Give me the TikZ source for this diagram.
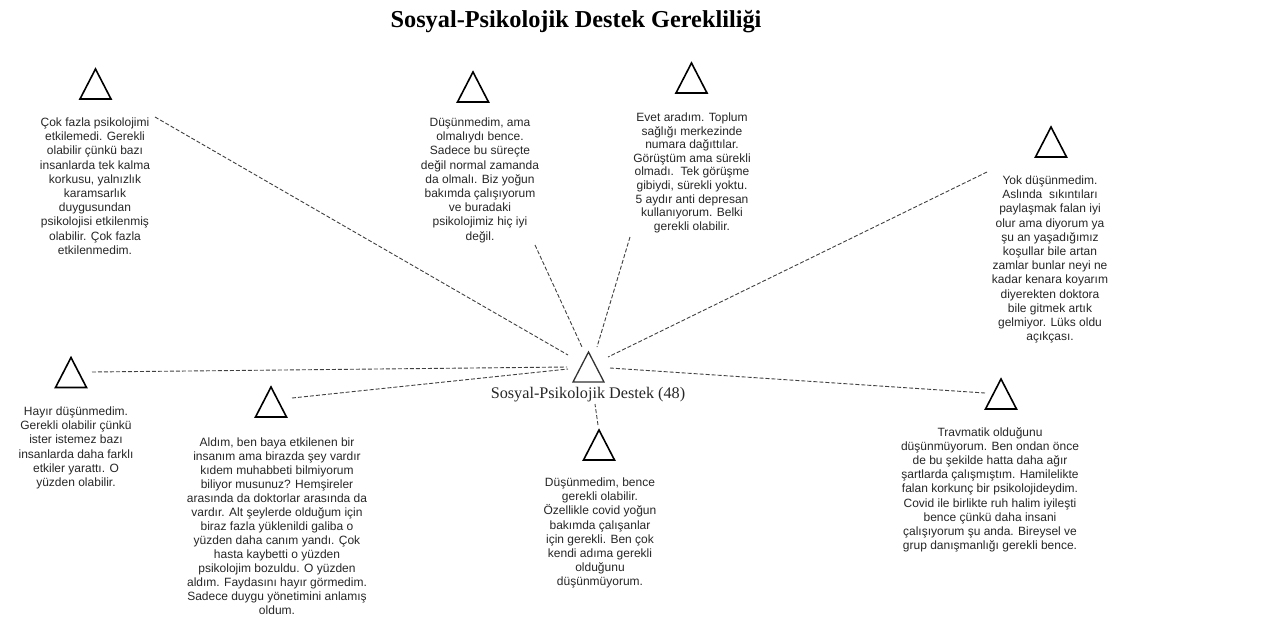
\documentclass[tikz,border=0pt]{standalone}
\usepackage{fontspec}
\usetikzlibrary{calc}
\setmainfont{Liberation Serif}
\newfontfamily\arialf{Liberation Sans}
\begin{document}
\begin{tikzpicture}[x=1pt,y=-1pt,
  quote/.style={align=center,anchor=north,inner sep=0pt,text=black!85,
    font=\arialf\fontsize{12}{14.2}\selectfont},
  conn/.style={draw=black!75,line width=0.9pt,dash pattern=on 4pt off 2pt},
  trimark/.style={draw=black,line width=1.6pt,line join=miter}]
\useasboundingbox (0,0) rectangle (1271,619);
\newcommand{\tri}[3]{%
  \coordinate (#1) at (#2,#3);
  \draw[trimark] ($(#1)+(0,-15)$) -- ($(#1)+(15.5,15)$) -- ($(#1)+(-15.5,15)$) -- cycle;}
\newcommand{\firstl}{\rule{0pt}{11pt}}
% title
\node[anchor=base,inner sep=0pt,font=\bfseries\fontsize{24.3}{28}\selectfont] (title) at (576,27) {Sosyal-Psikolojik Destek Gerekliliği};
% hub
\coordinate (hub) at (588.5,367);
\draw[draw=black!80,line width=1.3pt] ($(hub)+(0,-15)$) -- ($(hub)+(15.5,15)$) -- ($(hub)+(-15.5,15)$) -- cycle;
\node[anchor=base,inner sep=0pt,font=\fontsize{16.2}{19}\selectfont,text=black!85] (hublabel) at (588,398) {Sosyal-Psikolojik Destek (48)};
% triangles
\tri{t1}{95.5}{84}
\tri{t2}{473}{87}
\tri{t3}{691.5}{78}
\tri{t4}{1051}{142}
\tri{t5}{71}{372.5}
\tri{t6}{271}{402}
\tri{t7}{599}{445}
\tri{t8}{1001}{394}
% texts
\node[quote] (b1) at (95,115.3) {\firstl Çok fazla psikolojimi\\etkilemedi. Gerekli\\olabilir çünkü bazı\\insanlarda tek kalma\\korkusu, yalnızlık\\karamsarlık\\duygusundan\\psikolojisi etkilenmiş\\olabilir. Çok fazla\\etkilenmedim.};
\node[quote] (b2) at (480,115.3) {\firstl Düşünmedim, ama\\olmalıydı bence.\\Sadece bu süreçte\\değil normal zamanda\\da olmalı. Biz yoğun\\bakımda çalışıyorum\\ve buradaki\\psikolojimiz hiç iyi\\değil.};
\node[quote,font=\arialf\fontsize{12}{13.6}\selectfont] (b3) at (692,110.3) {\firstl Evet aradım. Toplum\\sağlığı merkezinde\\numara dağıttılar.\\Görüştüm ama sürekli\\olmadı.~~Tek görüşme\\gibiydi, sürekli yoktu.\\5 aydır anti depresan\\kullanıyorum. Belki\\gerekli olabilir.};
\node[quote] (b4) at (1050,173.3) {\firstl Yok düşünmedim.\\Aslında~~sıkıntıları\\paylaşmak falan iyi\\olur ama diyorum ya\\şu an yaşadığımız\\koşullar bile artan\\zamlar bunlar neyi ne\\kadar kenara koyarım\\diyerekten doktora\\bile gitmek artık\\gelmiyor. Lüks oldu\\açıkçası.};
\node[quote] (b5) at (76,404.3) {\firstl Hayır düşünmedim.\\Gerekli olabilir çünkü\\ister istemez bazı\\insanlarda daha farklı\\etkiler yarattı. O\\yüzden olabilir.};
\node[quote,font=\arialf\fontsize{12}{14}\selectfont] (b6) at (277,435.3) {\firstl Aldım, ben baya etkilenen bir\\insanım ama birazda şey vardır\\kıdem muhabbeti bilmiyorum\\biliyor musunuz? Hemşireler\\arasında da doktorlar arasında da\\vardır. Alt şeylerde olduğum için\\biraz fazla yüklenildi galiba o\\yüzden daha canım yandı. Çok\\hasta kaybetti o yüzden\\psikolojim bozuldu. O yüzden\\aldım. Faydasını hayır görmedim.\\Sadece duygu yönetimini anlamış\\oldum.};
\node[quote] (b7) at (600,475.3) {\firstl Düşünmedim, bence\\gerekli olabilir.\\Özellikle covid yoğun\\bakımda çalışanlar\\için gerekli. Ben çok\\kendi adıma gerekli\\olduğunu\\düşünmüyorum.};
\node[quote,font=\arialf\fontsize{12}{14.1}\selectfont] (b8) at (990,425.3) {\firstl Travmatik olduğunu\\düşünmüyorum. Ben ondan önce\\de bu şekilde hatta daha ağır\\şartlarda çalışmıştım. Hamilelikte\\falan korkunç bir psikolojideydim.\\Covid ile birlikte ruh halim iyileşti\\bence çünkü daha insani\\çalışıyorum şu anda. Bireysel ve\\grup danışmanlığı gerekli bence.};
% connector end points
\coordinate (a1) at (155,117);  \coordinate (h1) at (568,355);
\coordinate (a2) at (535,245);  \coordinate (h2) at (582,347);
\coordinate (a3) at (630,237);  \coordinate (h3) at (597,347);
\coordinate (a4) at (987,172);  \coordinate (h4) at (608,357);
\coordinate (a5) at (92,372);   \coordinate (h5) at (567,367);
\coordinate (a6) at (292,398);  \coordinate (h6) at (568,369);
\coordinate (a7) at (598,425);  \coordinate (h7) at (595,404);
\coordinate (a8) at (985,393);  \coordinate (h8) at (610,368);
\draw[conn] (a1) -- (h1);
\draw[conn] (a2) -- (h2);
\draw[conn] (a3) -- (h3);
\draw[conn] (a4) -- (h4);
\draw[conn] (a5) -- (h5);
\draw[conn] (a6) -- (h6);
\draw[conn] (a7) -- (h7);
\draw[conn] (a8) -- (h8);
\end{tikzpicture}
\end{document}
